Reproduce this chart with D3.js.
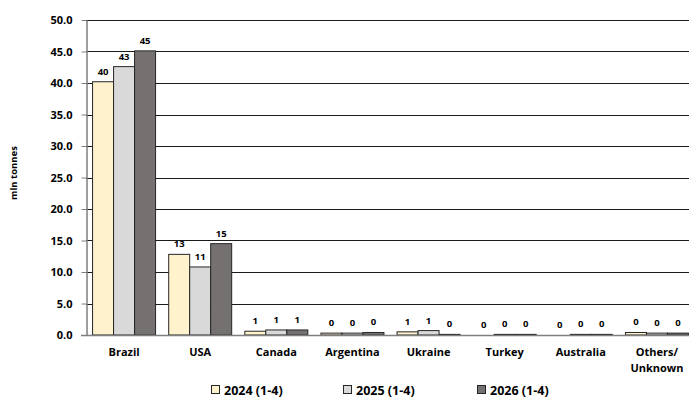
<!DOCTYPE html>
<html>
<head>
<meta charset="utf-8">
<script src="https://cdn.jsdelivr.net/npm/d3@7"></script>
<style>
  html, body { margin: 0; padding: 0; background: #fff; }
  svg { display: block; font-family: "Open Sans", Lato, sans-serif; font-weight: 700; }
</style>
</head>
<body>
<svg id="chart" width="689" height="399"></svg>
<script>
// Categories and series (mln tonnes, months 1-4)
const categories = ["Brazil", "USA", "Canada", "Argentina", "Ukraine", "Turkey", "Australia", "Others/\nUnknown"];
const seriesNames = ["2024 (1-4)", "2025 (1-4)", "2026 (1-4)"];
const values2024 = [40.2, 12.8, 0.6, 0.3, 0.5, 0.0, 0.0, 0.4];
const values2025 = [42.6, 10.8, 0.8, 0.3, 0.7, 0.1, 0.1, 0.3];
const values2026 = [45.1, 14.5, 0.8, 0.4, 0.1, 0.1, 0.1, 0.3];
const yTicks = [0, 5, 10, 15, 20, 25, 30, 35, 40, 45, 50];
const seriesColors = ["#FFF2CC", "#D9D9D9", "#767171"];

const series = [values2024, values2025, values2026];

const svg = d3.select("#chart");
const plotLeft = 86, plotRight = 695, plotTop = 20, plotBottom = 335;
const fontStack = "'Open Sans', Lato, sans-serif";

const x = d3.scaleBand().domain(categories).range([plotLeft, plotRight]).paddingInner(0).paddingOuter(0);
const x1 = d3.scaleBand().domain(d3.range(3)).range([0, 63]);
const y = d3.scaleLinear().domain([0, 50]).range([plotBottom, plotTop]);

// Horizontal gridlines
svg.append("g").selectAll("line")
  .data(yTicks.filter(t => t > 0))
  .join("line")
  .attr("x1", plotLeft).attr("x2", 689)
  .attr("y1", d => Math.round(y(d)) + 0.5).attr("y2", d => Math.round(y(d)) + 0.5)
  .attr("stroke", "#1a1a1a").attr("stroke-width", 1);

// Y axis
const yAxis = svg.append("g")
  .attr("transform", `translate(${plotLeft + 0.5},0)`)
  .call(d3.axisLeft(y).tickValues(yTicks).tickFormat(d3.format(".1f")).tickSize(5).tickSizeOuter(0));
yAxis.select(".domain").attr("stroke", "#7f7f7f").attr("stroke-width", 1.5);
yAxis.selectAll(".tick line").attr("stroke", "#7f7f7f");
yAxis.selectAll(".tick text")
  .attr("x", -14)
  .attr("font-family", fontStack)
  .attr("font-weight", 700)
  .attr("font-size", 11)
  .attr("fill", "#000");

// Bars
const groups = svg.append("g").selectAll("g")
  .data(categories)
  .join("g")
  .attr("transform", d => `translate(${x(d) + (x.bandwidth() - 63) / 2},0)`);

groups.selectAll("rect")
  .data((d, i) => series.map((s, k) => ({ k, v: s[i] })))
  .join("rect")
  .attr("x", d => x1(d.k))
  .attr("width", x1.bandwidth())
  .attr("y", d => y(d.v))
  .attr("height", d => Math.max(0, y(0) - y(d.v)))
  .attr("fill", d => seriesColors[d.k])
  .attr("stroke", "#262626")
  .attr("stroke-width", 1);

// Value labels
groups.selectAll("text")
  .data((d, i) => series.map((s, k) => ({ k, v: s[i] })))
  .join("text")
  .attr("x", d => x1(d.k) + x1.bandwidth() / 2)
  .attr("y", d => y(d.v) - 7)
  .attr("text-anchor", "middle")
  .attr("font-size", 9.5)
  .attr("fill", "#000")
  .text(d => d3.format(".0f")(d.v));

// Baseline
svg.append("line")
  .attr("x1", plotLeft - 5).attr("x2", 689)
  .attr("y1", plotBottom + 0.5).attr("y2", plotBottom + 0.5)
  .attr("stroke", "#7f7f7f").attr("stroke-width", 1.5);

// Category labels
svg.append("g").selectAll("text")
  .data(categories)
  .join("text")
  .attr("x", d => x(d) + x.bandwidth() / 2)
  .attr("y", 356)
  .attr("text-anchor", "middle")
  .attr("font-size", 11)
  .attr("fill", "#000")
  .each(function(d) {
    const lines = d.split("\n");
    d3.select(this).selectAll("tspan")
      .data(lines)
      .join("tspan")
      .attr("x", x(d) + x.bandwidth() / 2)
      .attr("dy", (l, i) => i === 0 ? 0 : 16)
      .text(l => l);
  });

// Y axis title
svg.append("text")
  .attr("transform", "translate(17,173) rotate(-90)")
  .attr("text-anchor", "middle")
  .attr("font-size", 9.5)
  .attr("fill", "#000")
  .text("mln tonnes");

// Legend
const legendX = [211, 343, 477];
const legend = svg.append("g").selectAll("g")
  .data(seriesNames)
  .join("g")
  .attr("transform", (d, i) => `translate(${legendX[i]},385)`);
legend.append("rect")
  .attr("x", 0.5).attr("y", 0.5)
  .attr("width", 8).attr("height", 8)
  .attr("fill", (d, i) => seriesColors[i])
  .attr("stroke", "#262626");
legend.append("text")
  .attr("x", 13)
  .attr("y", 9.5)
  .attr("font-size", 12.5)
  .attr("fill", "#000")
  .text(d => d);
</script>
</body>
</html>
